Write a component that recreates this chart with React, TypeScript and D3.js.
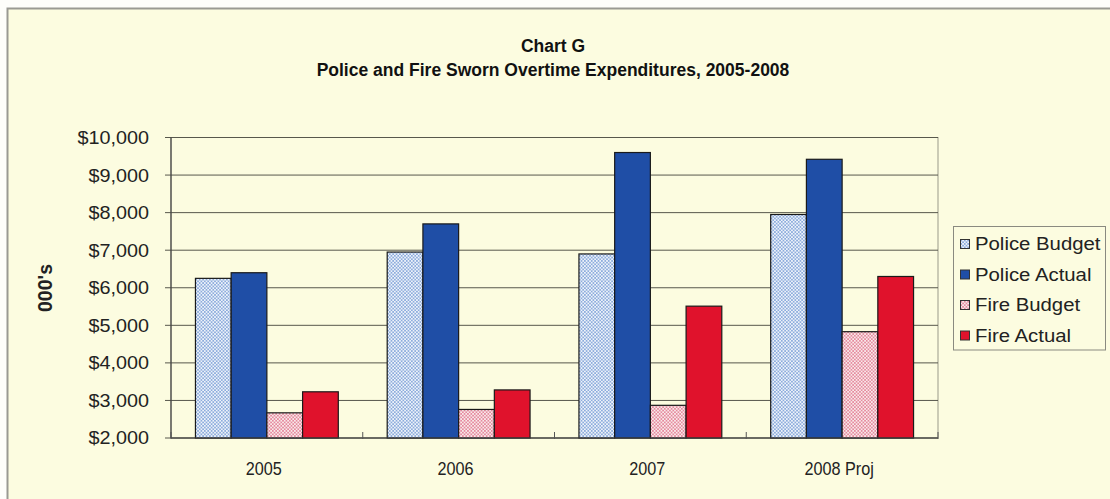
import React from "react";
import * as d3 from "d3";

const categories = ["2005", "2006", "2007", "2008 Proj"];
const seriesNames = ["Police Budget", "Police Actual", "Fire Budget", "Fire Actual"];
const policeBudget = [6250, 6950, 6900, 7950];
const policeActual = [6400, 7700, 9600, 9420];
const fireBudget = [2670, 2760, 2870, 4830];
const fireActual = [3230, 3280, 5510, 6300];
const yTicks = [2000, 3000, 4000, 5000, 6000, 7000, 8000, 9000, 10000];

const seriesValues = [policeBudget, policeActual, fireBudget, fireActual];
const fills = ["url(#dotBlue)", "#1f4ea6", "url(#dotPink)", "#e0122c"];

export default function App() {
  const W = 1110;
  const H = 499;
  const left = 171;
  const right = 938;
  const top = 137.5;
  const bottom = 438;

  const x0 = d3.scaleBand<string>().domain(categories).range([left, right]).paddingInner(0.255).paddingOuter(0.1275);
  const x1 = d3.scaleBand<string>().domain(seriesNames).range([0, x0.bandwidth()]);
  const y = d3.scaleLinear().domain([2000, 10000]).range([bottom, top]);
  const fmt = (v: number) => "$" + d3.format(",")(v);
  const step = (right - left) / categories.length;

  return (
    <div style={{ position: "absolute", left: 0, top: 0, width: W, height: H, overflow: "hidden", background: "#fefefa" }}>
      <svg width={W} height={H} style={{ display: "block" }} fontFamily="'Liberation Sans', Arial, sans-serif">
        <defs>
          <pattern id="dotBlue" width="3.4" height="3.4" patternUnits="userSpaceOnUse">
            <rect width="3.4" height="3.4" fill="#eef3fa" />
            <circle cx="0.85" cy="0.85" r="0.85" fill="#6d95d2" />
            <circle cx="2.55" cy="2.55" r="0.85" fill="#6d95d2" />
          </pattern>
          <pattern id="dotPink" width="3.4" height="3.4" patternUnits="userSpaceOnUse">
            <rect width="3.4" height="3.4" fill="#f9eaea" />
            <circle cx="0.85" cy="0.85" r="0.85" fill="#df6a86" />
            <circle cx="2.55" cy="2.55" r="0.85" fill="#df6a86" />
          </pattern>
        </defs>
        <rect x={0} y={0} width={W} height={H} fill="#fefefa" />
        <rect x={7.5} y={8.5} width={W + 20} height={H + 20} fill="#fcfce0" stroke="#9a9a92" strokeWidth={2} />

        {/* title */}
        <text x={553} y={52} textAnchor="middle" fontWeight="bold" fontSize={17.5} fill="#111">Chart G</text>
        <text x={553} y={76} textAnchor="middle" fontWeight="bold" fontSize={17.5} fill="#111">
          Police and Fire Sworn Overtime Expenditures, 2005-2008
        </text>

        {/* plot frame */}
        <rect x={left} y={top} width={right - left} height={bottom - top} fill="none" stroke="#9a9a8a" strokeWidth={1} />

        {/* gridlines */}
        {yTicks.map((t) => (
          <line key={"g" + t} x1={left - 6} x2={right} y1={y(t)} y2={y(t)} stroke="#57574c" strokeWidth={1} />
        ))}

        {/* y labels */}
        {yTicks.map((t) => (
          <text key={"l" + t} x={149} y={y(t) + 6.5} textAnchor="end" fontSize={18} fill="#222"
            transform={`translate(149,0) scale(1.1,1) translate(-149,0)`}>
            {fmt(t)}
          </text>
        ))}

        {/* y title */}
        <text transform={`translate(52,288) rotate(-90)`} textAnchor="middle" fontWeight="bold" fontSize={19.5} fill="#222">000's</text>

        {/* bars */}
        {categories.map((c, i) => (
          <g key={c} transform={`translate(${x0(c)},0)`}>
            {seriesNames.map((s, j) => {
              const v = seriesValues[j][i];
              return (
                <rect key={s} x={x1(s)} y={y(v)} width={x1.bandwidth()} height={bottom - y(v)}
                  fill={fills[j]} stroke="#1a1a1a" strokeWidth={1.2} />
              );
            })}
          </g>
        ))}

        {/* axes */}
        <line x1={left} x2={left} y1={top} y2={bottom} stroke="#444" strokeWidth={1.2} />
        <line x1={left} x2={right} y1={bottom} y2={bottom} stroke="#444" strokeWidth={1.2} />
        {d3.range(categories.length + 1).map((k) => (
          <line key={"t" + k} x1={left + k * step} x2={left + k * step} y1={bottom - 6} y2={bottom + 1} stroke="#555" strokeWidth={1} />
        ))}

        {/* x labels */}
        {categories.map((c) => {
          const cx = (x0(c) as number) + x0.bandwidth() / 2 - 3;
          return (
            <text key={"x" + c} x={cx} y={475} textAnchor="middle" fontSize={18} fill="#222"
              transform={`translate(${cx},0) scale(0.9,1) translate(${-cx},0)`}>
              {c}
            </text>
          );
        })}

        {/* legend */}
        <rect x={953.5} y={226.5} width={152} height={123.5} fill="#fcfce0" stroke="#8a8a80" strokeWidth={1} />
        {seriesNames.map((s, j) => {
          const cy = 244 + j * 30.5;
          return (
            <g key={"lg" + s}>
              <rect x={960.5} y={cy - 4.5} width={9} height={9} fill={fills[j]} stroke="#333" strokeWidth={1} />
              <text x={975} y={cy + 6.5} fontSize={18.5} fill="#222"
                transform={`translate(975,0) scale(1.1,1) translate(-975,0)`}>{s}</text>
            </g>
          );
        })}
      </svg>
    </div>
  );
}
